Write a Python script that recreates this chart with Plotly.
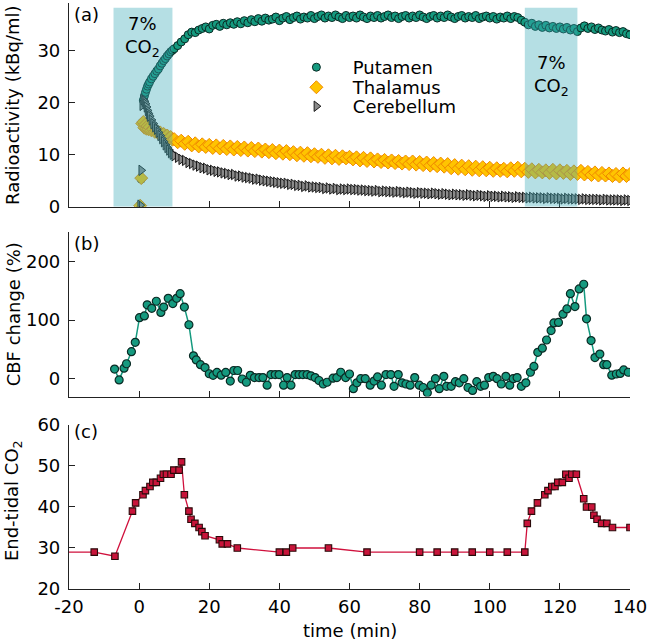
import plotly.graph_objects as go

# ---------------- data ----------------
# (a) PET time-activity curves (kBq/ml)
pet_time = [0.3, 0.6, 0.9, 1.2, 1.5, 1.8, 2.1, 2.4, 2.7, 3.0, 3.5, 4.0, 4.5, 5.0, 5.5, 6.0, 6.5, 7.0, 7.5, 8.0,
            8.5, 9.0, 9.5, 10, 11, 12, 13, 14, 15, 16, 17, 18, 19, 20, 21, 22, 23, 24, 25, 26,
            27, 28, 29, 30, 31, 32, 33, 34, 35, 36, 37, 38, 39, 40, 41, 42, 43, 44, 45, 46,
            47, 48, 49, 50, 51, 52, 53, 54, 55, 56, 57, 58, 59, 60, 61, 62, 63, 64, 65, 66,
            67, 68, 69, 70, 71, 72, 73, 74, 75, 76, 77, 78, 79, 80, 81, 82, 83, 84, 85, 86,
            87, 88, 89, 90, 91, 92, 93, 94, 95, 96, 97, 98, 99, 100, 101, 102, 103, 104, 105, 106,
            107, 108, 109, 110, 111, 112, 113, 114, 115, 116, 117, 118, 119, 120, 121, 122, 123, 124, 125, 126,
            127, 128, 129, 130, 131, 132, 133, 134, 135, 136, 137, 138, 139, 140]

putamen = [0.3, 5.3, 16.2, 20.5, 21.3, 22.0, 22.6, 23.2, 23.6, 24.0, 24.6, 25.1, 25.6, 26.1, 26.5, 27.1, 27.6, 28.1, 28.5, 29.0,
           29.4, 29.8, 30.1, 30.4, 31.0, 31.7, 32.3, 33.1, 33.6, 33.5, 34.0, 34.3, 34.6, 34.2, 34.9, 35.1, 34.7, 35.3, 35.0, 35.4,
           35.1, 35.6, 35.2, 35.8, 35.4, 36.0, 35.6, 36.2, 35.7, 36.3, 35.9, 36.1, 36.5, 35.8, 36.3, 36.6, 36.0, 36.4, 36.7, 36.1,
           36.5, 36.3, 36.8, 36.2, 36.6, 36.9, 36.3, 36.7, 36.4, 36.9, 36.5, 36.2, 36.8, 36.4, 36.7, 36.3, 36.9, 36.5, 36.2, 36.7,
           36.4, 36.8, 36.3, 36.6, 36.9, 36.4, 36.7, 36.2, 36.6, 36.8, 36.3, 36.7, 36.4, 36.9, 36.5, 36.2, 36.6, 36.8, 36.3, 36.7,
           36.4, 36.9, 36.5, 36.2, 36.6, 36.8, 36.3, 36.6, 36.4, 36.8, 36.2, 36.5, 36.7, 36.3, 36.6, 36.1, 36.5, 36.3, 36.7, 36.2,
           36.6, 36.4, 35.9, 35.5, 35.0, 35.3, 34.7, 35.0, 34.5, 34.9, 34.4, 34.7, 34.3, 34.6, 34.2, 34.5, 34.0, 34.3, 33.7, 34.4,
           34.8, 34.3, 34.6, 34.1, 34.4, 34.0, 33.8, 34.1, 33.6, 33.9, 33.5, 33.7, 33.3, 33.1]

thalamus = [0.2, 5.5, 16.0, 16.3, 15.2, 15.8, 15.0, 15.5, 14.9, 15.3, 14.7, 14.9, 14.4, 14.6, 14.1, 14.3, 13.8, 14.0, 13.5, 13.7,
            13.2, 13.4, 12.9, 13.0, 12.4, 12.7, 12.1, 12.5, 11.8, 12.2, 11.6, 12.0, 11.5, 11.9, 11.3, 11.8, 11.2, 11.7, 11.1, 11.6,
            11.0, 11.5, 10.9, 11.4, 10.8, 11.3, 10.7, 11.2, 10.6, 11.0, 10.5, 10.9, 10.3, 10.8, 10.2, 10.7, 10.1, 10.5, 9.9, 10.4,
            9.8, 10.3, 9.7, 10.1, 9.6, 10.0, 9.4, 9.9, 9.3, 9.8, 9.2, 9.7, 9.3, 9.6, 9.1, 9.5, 8.9, 9.4, 8.8, 9.3,
            8.7, 9.1, 8.6, 9.0, 8.5, 8.9, 8.4, 8.8, 8.3, 8.7, 8.2, 8.7, 8.1, 8.6, 8.0, 8.5, 7.9, 8.4, 7.8, 8.3,
            7.7, 8.2, 7.4, 8.0, 7.3, 7.9, 7.2, 7.8, 7.1, 7.7, 7.0, 7.6, 7.0, 7.5, 6.9, 7.4, 6.9, 7.3, 6.8, 7.4,
            6.9, 7.5, 6.8, 7.3, 6.7, 7.2, 6.6, 7.1, 6.6, 7.0, 6.5, 7.1, 6.4, 7.0, 6.5, 6.9, 6.3, 6.8, 6.3, 6.9,
            6.2, 6.7, 6.1, 6.6, 6.0, 6.5, 6.0, 6.4, 5.9, 6.3, 5.8, 6.4, 5.9, 6.3]

cerebellum = [0.3, 7.0, 19.5, 20.6, 20.3, 19.8, 19.2, 18.5, 17.9, 17.4, 16.7, 16.0, 15.4, 14.9, 14.3, 13.7, 13.1, 12.5, 11.9, 11.4,
              10.9, 10.4, 10.1, 9.8, 9.5, 9.1, 8.9, 8.5, 8.3, 8.0, 7.8, 7.5, 7.4, 7.1, 7.0, 6.8, 6.7, 6.5, 6.4, 6.2,
              6.2, 5.9, 5.9, 5.7, 5.6, 5.5, 5.3, 5.3, 5.1, 5.0, 4.9, 4.8, 4.7, 4.6, 4.5, 4.5, 4.3, 4.3, 4.1, 4.1,
              3.9, 4.0, 3.8, 3.8, 3.7, 3.7, 3.5, 3.6, 3.4, 3.5, 3.3, 3.4, 3.3, 3.4, 3.3, 3.3, 3.2, 3.2, 3.1, 3.1,
              3.0, 3.1, 2.9, 3.0, 2.9, 2.9, 2.8, 2.9, 2.8, 2.7, 2.8, 2.7, 2.6, 2.7, 2.6, 2.6, 2.5, 2.6, 2.5, 2.4,
              2.5, 2.4, 2.3, 2.4, 2.3, 2.3, 2.2, 2.3, 2.2, 2.1, 2.2, 2.1, 2.0, 2.1, 2.0, 2.0, 1.9, 2.0, 1.9, 1.9,
              1.8, 1.9, 1.8, 1.8, 1.7, 1.8, 1.7, 1.7, 1.7, 1.6, 1.7, 1.6, 1.6, 1.6, 1.5, 1.6, 1.5, 1.5, 1.5, 1.4,
              1.5, 1.4, 1.4, 1.4, 1.4, 1.3, 1.4, 1.3, 1.3, 1.3, 1.3, 1.2, 1.3, 1.2]

# (b) CBF change (%)
cbf_time = [-7.0, -5.7, -4.3, -3.6, -2.2, -1.1, 0.1, 1.5, 2.3, 3.6, 4.9, 6.2, 7.0, 8.3, 9.6, 10.7,
            11.7, 12.9, 14.2, 15.5, 16.3, 17.5, 18.8, 20.0, 21.1, 22.2, 23.4, 24.7, 26.0, 27.0, 28.1, 29.4,
            30.6, 31.7, 32.9, 34.2, 35.3, 36.5, 37.6, 38.8, 39.9, 41.2, 42.2, 43.3, 44.5, 45.6, 46.7, 47.9,
            49.0, 50.2, 51.3, 52.5, 53.6, 55.3, 56.4, 57.5, 58.9, 60.0, 61.1, 62.1, 63.2, 64.5, 65.9, 67.0,
            68.0, 69.1, 70.4, 71.8, 72.7, 73.9, 75.0, 76.1, 77.3, 78.6, 79.9, 81.0, 82.2, 83.3, 84.5, 85.6,
            86.9, 87.7, 89.0, 90.2, 91.3, 92.6, 93.8, 95.1, 96.3, 97.4, 98.5, 99.7, 101.0, 102.1, 103.3, 104.6,
            105.7, 106.7, 107.8, 109.0, 110.3, 111.6, 112.6, 113.7, 115.0, 116.2, 117.5, 118.3, 119.6, 120.9, 122.0, 123.0,
            124.3, 125.5, 126.8, 127.6, 128.9, 130.0, 131.4, 132.5, 133.4, 134.8, 136.1, 137.2, 138.2, 139.5]
cbf_change = [16.5, -2, 18, 25.5, 46, 62, 104, 107, 126, 120, 132, 113, 122, 137, 128, 137,
              145, 122, 92, 39, 32, 24, 19, 8.5, 5.7, 10.7, 6, 10.7, -4, 14, 14, -0.5,
              -6, 5.7, 2, 2, 2, -11, 7, 7, 7, -11, 2, -11, 7, 7, 7, 7,
              5, 2, -3, -9, -6, 1, 2, 11, 2, 8, -17, -7, 0, 0, -11, -4,
              3, -11, 7, 7, -13, 7, -7, -9, -11, 2, -11, -15, -24, -11, 0, -17,
              4, -13, -13, -5, -7, 0, -15, -20, -5, -13, -11, 2, 4, 0, -9, 4,
              -11, 0, 2, -13, -7, 11, 21, 45, 52, 66, 82, 95, 96, 110, 119, 145,
              123, 153, 161, 102, 65, 36, 42, 24, 24, 6, 8, 9, 15, 11]

# (c) End-tidal CO2
co2_time = [-25, -12.8, -6.9, -1.9, -1.0, 1.1, 1.8, 3.1, 3.9, 4.9, 6.1, 6.9, 7.8, 9.1, 9.9, 11.4, 12.1, 12.9,
            14.2, 14.8, 15.9, 17.1, 17.9, 18.8, 22.9, 23.7, 25.2, 28.0, 40.0, 42.0, 43.8, 54.0, 65.0, 80, 85, 90,
            95, 100, 105, 110, 110.7, 111.9, 113.6, 115.7, 116.6, 117.7, 118.6, 119.4, 120.7, 121.7, 122.6, 123.4,
            124.7, 126.8, 127.6, 129.1, 129.7, 130.6, 131.9, 133.4, 135.0, 140.0]
co2_value = [29, 29, 28, 39, 41, 43, 44, 45, 46, 46, 47, 48, 48, 48, 49, 49, 51, 43,
             39, 37, 36, 35, 34, 33, 32, 31, 31, 30, 29, 29, 30, 30, 29, 29, 29, 29,
             29, 29, 29, 29, 36, 39, 41, 43, 44, 45, 45, 46, 46, 48, 47, 48,
             48, 42, 40, 40, 38, 37, 36, 36, 35, 35]

# CO2 inhalation periods (min)
co2_periods = [(-7.3, 9.5), (110.0, 125.0)]
co2_label_y = [(35.2, 30.6), (27.7, 23.0)]

x_ticks = [-20, 0, 20, 40, 60, 80, 100, 120, 140]

# ---------------- style ----------------
FONT = "DejaVu Sans"
TEAL = "#159a7f"
NB = "\u00a0\u00a0"
fig = go.Figure()

fig.add_trace(go.Scatter(x=pet_time, y=putamen, mode="markers", name=NB + "Putamen", legend="legend",
                         marker=dict(symbol="circle", size=8, color=TEAL, line=dict(color="#0b2b25", width=1)),
                         xaxis="x", yaxis="y"))
fig.add_trace(go.Scatter(x=pet_time, y=thalamus, mode="markers", name=NB + "Thalamus", legend="legend2",
                         marker=dict(symbol="diamond", size=10, color="#ffc400", line=dict(color="#f08a00", width=1)),
                         xaxis="x", yaxis="y"))
fig.add_trace(go.Scatter(x=pet_time, y=cerebellum, mode="markers", name=NB + "Cerebellum", legend="legend3",
                         marker=dict(symbol="triangle-right", size=9, color="#8a8a8a", line=dict(color="#1a1a1a", width=1)),
                         xaxis="x", yaxis="y"))

fig.add_trace(go.Scatter(x=cbf_time, y=cbf_change, mode="lines+markers", showlegend=False,
                         line=dict(color=TEAL, width=1.5),
                         marker=dict(symbol="circle", size=8, color=TEAL, line=dict(color="#0b2b25", width=1.2)),
                         xaxis="x2", yaxis="y2"))

fig.add_trace(go.Scatter(x=co2_time, y=co2_value, mode="lines+markers", showlegend=False,
                         line=dict(color="#d0103c", width=1.3),
                         marker=dict(symbol="square", size=6.5, color="#c8143a", line=dict(color="#2a0a0a", width=1.1)),
                         xaxis="x3", yaxis="y3"))

axis_common = dict(showline=True, linecolor="#222", linewidth=1.2, ticks="inside", ticklen=6,
                   tickcolor="#222", tickwidth=1.2, showgrid=False, zeroline=False, automargin=False,
                   tickfont=dict(family=FONT, size=18, color="black"))

xa = dict(axis_common, range=[-20, 140], tickvals=x_ticks, mirror=False)
fig.update_layout(
    xaxis=dict(xa, anchor="y", showticklabels=False),
    xaxis2=dict(xa, anchor="y2", showticklabels=False),
    xaxis3=dict(xa, anchor="y3", ticktext=[str(v) for v in x_ticks], ticklabelstandoff=1),
    yaxis=dict(axis_common, domain=[0.6524, 1.0], range=[0, 39.2], tickvals=[0, 10, 20, 30], anchor="x",
               ticklabelstandoff=4),
    yaxis2=dict(axis_common, domain=[0.3283, 0.6092], range=[-30.5, 250], tickvals=[0, 100, 200], anchor="x2",
                ticklabelstandoff=4),
    yaxis3=dict(axis_common, domain=[0.0, 0.2799], range=[20, 60], tickvals=[20, 30, 40, 50, 60], anchor="x3",
                ticklabelstandoff=4),
)

shapes = []
annotations = []
for (x0, x1), (ly1, ly2) in zip(co2_periods, co2_label_y):
    shapes.append(dict(type="rect", xref="x", yref="y", x0=x0, x1=x1, y0=0, y1=38.3,
                       fillcolor="rgba(60,172,185,0.38)", line=dict(width=0), layer="above"))
    xc = (x0 + x1) / 2
    annotations.append(dict(x=xc, y=ly1, xref="x", yref="y", text="7%", showarrow=False,
                            font=dict(family=FONT, size=18, color="black")))
    annotations.append(dict(x=xc, y=ly2, xref="x", yref="y", text="CO<sub>2</sub>", showarrow=False,
                            font=dict(family=FONT, size=18, color="black")))

panel_labels = [("(a)", 0.98), ("(b)", 0.5895), ("(c)", 0.268)]
for txt, yy in panel_labels:
    annotations.append(dict(x=0.031, y=yy, xref="paper", yref="paper", text=txt, showarrow=False,
                            xanchor="center", yanchor="middle", font=dict(family=FONT, size=18, color="black")))

y_titles = [("Radioactivity (kBq/ml)", 0.826), ("CBF change (%)", 0.4688), ("End-tidal CO<sub>2</sub>", 0.15)]
for txt, yy in y_titles:
    annotations.append(dict(x=-0.0998, y=yy, xref="paper", yref="paper", text=txt, showarrow=False,
                            textangle=-90, xanchor="center", yanchor="middle",
                            font=dict(family=FONT, size=18, color="black")))
annotations.append(dict(x=0.5, y=-0.07, xref="paper", yref="paper", text="time (min)", showarrow=False,
                        xanchor="center", yanchor="middle", font=dict(family=FONT, size=18, color="black")))

leg_common = dict(xanchor="left", yanchor="top", bgcolor="rgba(0,0,0,0)",
                  font=dict(family=FONT, size=18, color="black"), itemwidth=40)
fig.update_layout(
    template="none",
    width=650, height=641,
    margin=dict(l=69, r=20, t=3, b=52, pad=0),
    paper_bgcolor="white", plot_bgcolor="white",
    font=dict(family=FONT, size=18, color="black"),
    shapes=shapes, annotations=annotations,
    showlegend=True,
    legend=dict(leg_common, x=0.3964, y=0.9215),
    legend2=dict(leg_common, x=0.3964, y=0.8873),
    legend3=dict(leg_common, x=0.3964, y=0.8549),
)

fig.write_html("out.html", config={"displayModeBar": False},
               post_script="document.body.style.margin='0px';")
